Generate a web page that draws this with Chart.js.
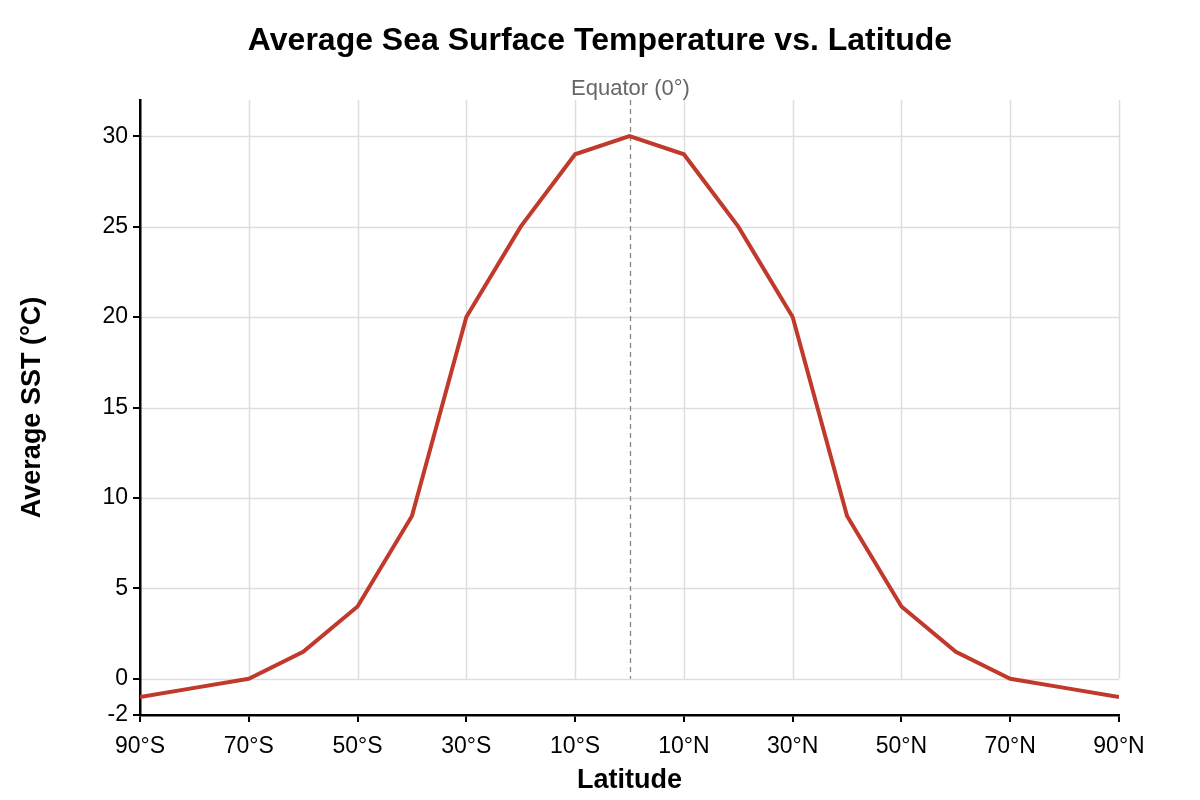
<!DOCTYPE html>
<html>
<head>
<meta charset="utf-8">
<script src="https://cdn.jsdelivr.net/npm/chart.js@4.4.1/dist/chart.umd.min.js"></script>
<style>
  html, body { margin: 0; padding: 0; background: #fff; }
  #wrap { width: 1200px; height: 800px; }
</style>
</head>
<body>
<div id="wrap"><canvas id="sstChart" width="1200" height="800"></canvas></div>
<script>
// data
const latitudes = [-90, -80, -70, -60, -50, -40, -30, -20, -10, 0, 10, 20, 30, 40, 50, 60, 70, 80, 90];
const sstValues = [-1, -0.5, 0, 1.5, 4, 9, 20, 25, 29, 30, 29, 25, 20, 9, 4, 1.5, 0, -0.5, -1];
const xTickValues = [-90, -70, -50, -30, -10, 10, 30, 50, 70, 90];
const yTickValues = [-2, 0, 5, 10, 15, 20, 25, 30];
const gridYValues = [0, 5, 10, 15, 20, 25, 30];
const chartTitle = 'Average Sea Surface Temperature vs. Latitude';
const equatorLabel = 'Equator (0°)';

const FONT = "'Liberation Sans', Arial, Helvetica, sans-serif";

function latLabel(v) {
    if (v < 0) return (-v) + '°S';
    if (v > 0) return v + '°N';
    return '0°';
}

// light grid only above 0, plus the dashed equator line, drawn under the axes
const gridPlugin = {
    id: 'sstGrid',
    beforeDraw(chart) {
        const ctx = chart.ctx;
        const x = chart.scales.x, y = chart.scales.y;
        const top = chart.chartArea.top;
        const y0 = y.getPixelForValue(0);
        ctx.save();
        ctx.fillStyle = '#fff';
        ctx.fillRect(0, 0, chart.width, chart.height);
        ctx.strokeStyle = '#dddddd';
        ctx.lineWidth = 1.5;
        gridYValues.forEach(v => {
            const py = Math.round(y.getPixelForValue(v)) + 0.5;
            ctx.beginPath();
            ctx.moveTo(x.left, py);
            ctx.lineTo(x.right, py);
            ctx.stroke();
        });
        xTickValues.forEach(v => {
            const px = Math.round(x.getPixelForValue(v)) + 0.5;
            ctx.beginPath();
            ctx.moveTo(px, top);
            ctx.lineTo(px, y0);
            ctx.stroke();
        });
        // equator
        const ex = Math.round(x.getPixelForValue(0)) + 0.5;
        ctx.strokeStyle = '#888888';
        ctx.lineWidth = 1.3;
        ctx.setLineDash([5, 4]);
        ctx.beginPath();
        ctx.moveTo(ex, top);
        ctx.lineTo(ex, y0);
        ctx.stroke();
        ctx.setLineDash([]);
        ctx.fillStyle = '#666666';
        ctx.font = '22px ' + FONT;
        ctx.textAlign = 'center';
        ctx.textBaseline = 'middle';
        ctx.fillText(equatorLabel, ex, top - 11);
        // title centred on the whole canvas
        ctx.fillStyle = '#000';
        ctx.font = 'bold 32px ' + FONT;
        ctx.fillText(chartTitle, chart.width / 2, 41);
        ctx.restore();
    }
};

new Chart(document.getElementById('sstChart'), {
    type: 'line',
    data: {
        labels: latitudes,
        datasets: [{
            label: 'Average SST',
            data: latitudes.map((lat, i) => ({ x: lat, y: sstValues[i] })),
            borderColor: '#c0392b',
            borderWidth: 4,
            pointRadius: 0,
            fill: false,
            tension: 0
        }]
    },
    options: {
        responsive: false,
        animation: false,
        layout: { padding: { left: 0, right: 81, top: 100, bottom: 0 } },
        plugins: {
            legend: { display: false },
            tooltip: { enabled: false },
            title: { display: false }
        },
        scales: {
            x: {
                type: 'linear',
                min: -90,
                max: 90,
                afterBuildTicks: s => { s.ticks = xTickValues.map(v => ({ value: v })); },
                afterFit: s => { s.height = 85; },
                ticks: {
                    color: '#000',
                    font: { family: FONT, size: 23 },
                    padding: 11,
                    maxRotation: 0,
                    autoSkip: false,
                    callback: v => latLabel(v)
                },
                grid: { drawOnChartArea: false, drawTicks: true, tickLength: 7, color: '#000', lineWidth: 2 },
                border: { display: true, color: '#000', width: 2.5 },
                title: {
                    display: true,
                    text: 'Latitude',
                    color: '#000',
                    font: { family: FONT, size: 27, weight: 'bold' },
                    padding: { top: 3, bottom: 3 }
                }
            },
            y: {
                type: 'linear',
                min: -2,
                max: 32,
                afterBuildTicks: s => { s.ticks = yTickValues.map(v => ({ value: v })); },
                afterFit: s => { s.width = 140; },
                ticks: {
                    color: '#000',
                    font: { family: FONT, size: 23 },
                    padding: 5
                },
                grid: { drawOnChartArea: false, drawTicks: true, tickLength: 7, color: '#000', lineWidth: 2 },
                border: { display: true, color: '#000', width: 2.5 },
                title: {
                    display: true,
                    text: 'Average SST (°C)',
                    color: '#000',
                    font: { family: FONT, size: 27, weight: 'bold' },
                    padding: { top: 16, bottom: 0 }
                }
            }
        }
    },
    plugins: [gridPlugin]
});
</script>
</body>
</html>
